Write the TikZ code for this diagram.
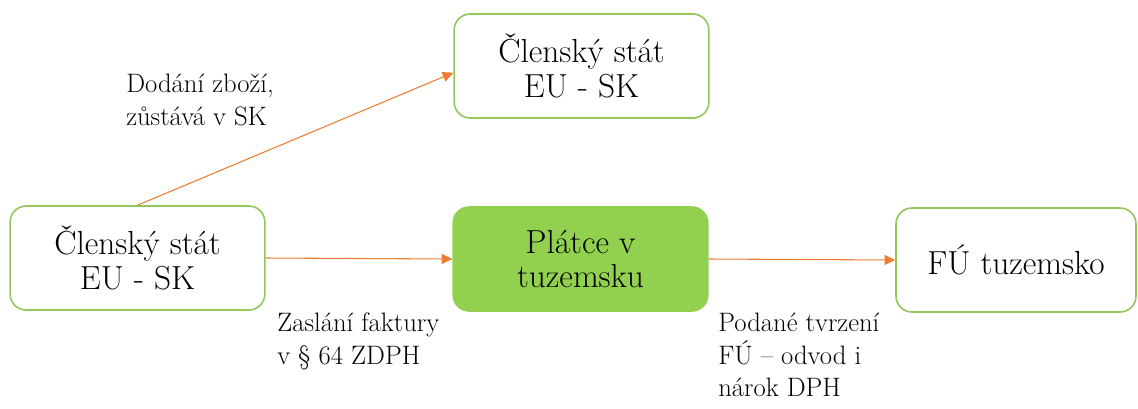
\documentclass[tikz,border=0pt]{standalone}
\usepackage{fontspec}
\usetikzlibrary{arrows.meta}
\definecolor{boxgreen}{RGB}{146,208,80}
\definecolor{linegreen}{RGB}{146,200,90}
\definecolor{arrorange}{RGB}{237,125,49}
\tikzset{
	statebox/.style={draw=linegreen, line width=1.2pt, rounded corners=12pt, fill=white,
		minimum width=191pt, minimum height=78pt, align=center, inner sep=0pt,
		font=\fontsize{25}{26}\selectfont},
	payerbox/.style={statebox, draw=boxgreen, fill=boxgreen},
	flow/.style={draw=arrorange, line width=0.8pt, -{Triangle[length=8pt,width=7.5pt]}},
	note/.style={align=left, inner sep=0pt, font=\fontsize{20}{24.4}\selectfont}
}

\begin{document}
\begin{tikzpicture}[x=0.75pt, y=-0.75pt]
		%%%%% START %%%%%
		\useasboundingbox (0, 0) rectangle (1138, 408);
		
		\node[statebox] (src) at (137.5, 258) {Členský stát\\EU - SK};
		\node[statebox] (dest) at (581.5, 66) {Členský stát\\EU - SK};
		\node[payerbox] (payer) at (580.5, 259) {Plátce v\\tuzemsku};
		\node[statebox, minimum width=180pt] (fu) at (1016, 260) {FÚ tuzemsko};
		
		\draw[flow] (src.north) -- ([yshift=-5pt]dest.west);
		\draw[flow] (src.east) -- (payer.west);
		\draw[flow] (payer.east) -- (fu.west);
		
		\node[note, anchor=north west] (supply) at (126, 74) {Dodání zboží,\\zůstává v SK};
		\node[note, anchor=north west] (invoice) at (277, 313) {Zaslání faktury\\v § 64 ZDPH};
		\node[note, anchor=north west] (claim) at (718, 313) {Podané tvrzení\\FÚ -- odvod i\\nárok DPH};
		%%%%% END %%%%%
	\end{tikzpicture}
\end{document}
